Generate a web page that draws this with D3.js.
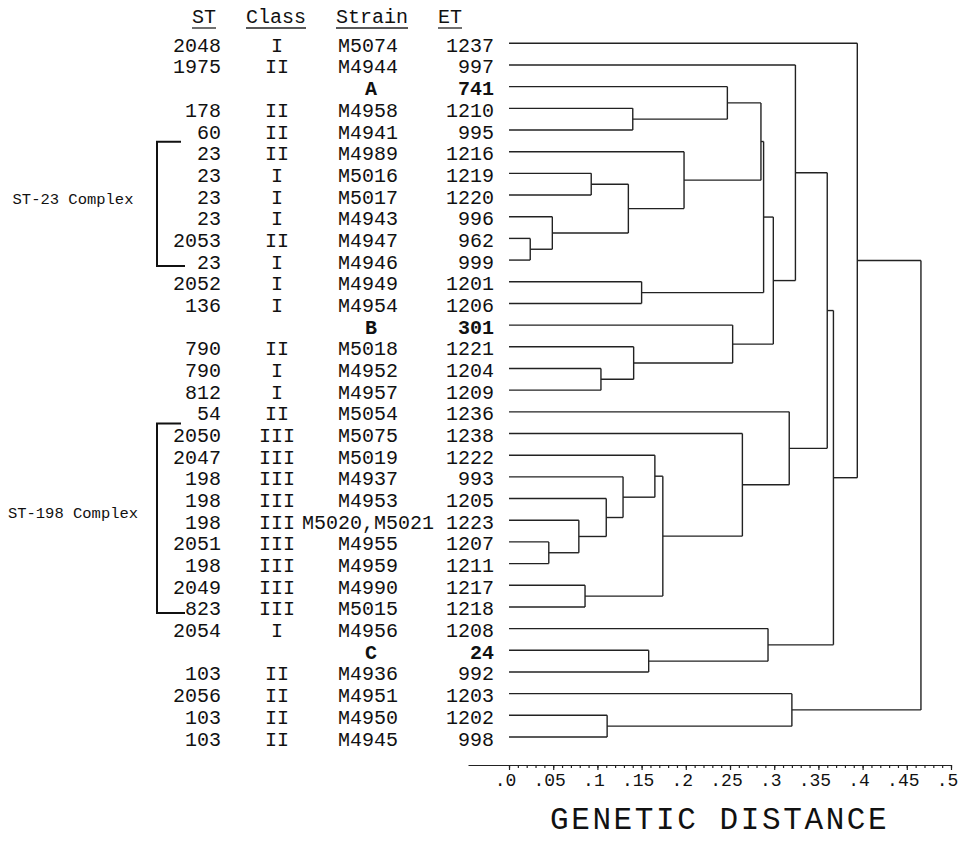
<!DOCTYPE html>
<html>
<head>
<meta charset="utf-8">
<script src="https://cdn.jsdelivr.net/npm/d3@7"></script>
<style>
  body { margin: 0; background: #fff; }
  svg { display: block; }
  text { font-family: "Liberation Mono", "Courier New", monospace; fill: #111; }
  .link { fill: none; stroke: #222; stroke-width: 1.4; }
  .axis path, .axis line { stroke: #222; stroke-width: 1.2; }
  .axis text { font-family: "Liberation Mono", monospace; font-size: 18px; fill: #111; }
</style>
</head>
<body>
<div id="chart"></div>
<script>
// table columns, one entry per leaf (top to bottom)
var st = ["2048","1975","","178","60","23","23","23","23","2053","23","2052","136","","790","790","812","54",
  "2050","2047","198","198","198","2051","198","2049","823","2054","","103","2056","103","103"];
var cls = ["I","II","","II","II","II","I","I","I","II","I","I","I","","II","I","I","II",
  "III","III","III","III","III","III","III","III","III","I","","II","II","II","II"];
var strain = ["M5074","M4944","A","M4958","M4941","M4989","M5016","M5017","M4943","M4947","M4946","M4949","M4954","B",
  "M5018","M4952","M4957","M5054","M5075","M5019","M4937","M4953","M5020,M5021","M4955","M4959","M4990","M5015",
  "M4956","C","M4936","M4951","M4950","M4945"];
var et = ["1237","997","741","1210","995","1216","1219","1220","996","962","999","1201","1206","301","1221","1204","1209",
  "1236","1238","1222","993","1205","1223","1207","1211","1217","1218","1208","24","992","1203","1202","998"];

// linkage: [childA, childB, distance]; leaves are 0..32, merge k becomes node 33+k
var merges = [
  [3, 4, 0.140], [2, 33, 0.247], [9, 10, 0.024], [8, 35, 0.049], [6, 7, 0.093],
  [37, 36, 0.135], [5, 38, 0.198], [34, 39, 0.285], [11, 12, 0.150], [40, 41, 0.288],
  [15, 16, 0.104], [14, 43, 0.141], [13, 44, 0.253], [42, 45, 0.299], [1, 46, 0.324],
  [23, 24, 0.045], [22, 48, 0.079], [21, 49, 0.110], [20, 50, 0.129], [19, 51, 0.165],
  [25, 26, 0.086], [52, 53, 0.174], [18, 54, 0.264], [17, 55, 0.317], [47, 56, 0.360],
  [28, 29, 0.158], [27, 58, 0.293], [57, 59, 0.367], [0, 60, 0.394], [31, 32, 0.111],
  [30, 62, 0.320], [61, 63, 0.466]
];

// complexes: [label, first row, last row]
var complexes = [["ST-23 Complex", 5, 10], ["ST-198 Complex", 18, 26]];

var tickVals = d3.range(0, 0.5001, 0.05);
var minorVals = d3.range(0, 0.5001, 0.01);

var width = 959, height = 844;
var svg = d3.select("#chart").append("svg").attr("width", width).attr("height", height);

var y = d3.scalePoint().domain(d3.range(st.length)).range([43.3, 737]);
var x = d3.scaleLinear().domain([-0.0464, 0.5]).range([468, 951]);

// nodes
var nodes = st.map(function(d, i) { return {h: 0, y: y(i), parent: null}; });
merges.forEach(function(m) {
  var a = nodes[m[0]], b = nodes[m[1]];
  var n = {h: m[2], y: (a.y + b.y) / 2, parent: null, kids: [a, b]};
  a.parent = n; b.parent = n;
  nodes.push(n);
});

var paths = [];
nodes.forEach(function(n) {
  if (n.parent) paths.push("M" + x(n.h) + "," + n.y + "H" + x(n.parent.h));
  if (n.kids) paths.push("M" + x(n.h) + "," + n.kids[0].y + "V" + n.kids[1].y);
});
svg.append("g").selectAll("path").data(paths).enter().append("path")
  .attr("class", "link").attr("d", function(d) { return d; });

// table
var fs = 20;
var rows = svg.append("g").selectAll("g").data(st).enter().append("g")
  .attr("transform", function(d, i) { return "translate(0," + (y(i) + 8.5) + ")"; })
  .style("font-size", fs + "px");
rows.append("text").attr("x", 221).attr("text-anchor", "end").text(function(d) { return d; });
rows.append("text").attr("x", 277).attr("text-anchor", "middle").text(function(d, i) { return cls[i]; });
rows.append("text").attr("x", function(d, i) { return st[i] === "" ? 371 : 368; })
  .attr("text-anchor", "middle")
  .style("font-weight", function(d, i) { return st[i] === "" ? "bold" : null; })
  .text(function(d, i) { return strain[i]; });
rows.append("text").attr("x", 494).attr("text-anchor", "end")
  .style("font-weight", function(d, i) { return st[i] === "" ? "bold" : null; })
  .text(function(d, i) { return et[i]; });

// header
var headers = [["ST", 216, "end"], ["Class", 276, "middle"], ["Strain", 336, "start"], ["ET", 438, "start"]];
var hg = svg.append("g").style("font-size", fs + "px");
headers.forEach(function(h) {
  var t = hg.append("text").attr("x", h[1]).attr("y", 23).attr("text-anchor", h[2]).text(h[0]);
  var bb = t.node().getBBox();
  hg.append("line").attr("x1", bb.x).attr("x2", bb.x + bb.width).attr("y1", 28).attr("y2", 28)
    .attr("stroke", "#222").attr("stroke-width", 1.3);
});

// complex brackets
var cg = svg.append("g");
complexes.forEach(function(c) {
  var y0 = y(c[1]) - 10, y1 = y(c[2]) + 6;
  cg.append("path").attr("d", "M181," + y0 + "H157V" + y1 + "H185")
    .attr("fill", "none").attr("stroke", "#111").attr("stroke-width", 2);
  cg.append("text").attr("x", 73).attr("y", (y0 + y1) / 2).attr("text-anchor", "middle")
    .style("font-size", "15.5px").text(c[0]);
});

// axis
var fmt = function(d) { return d === 0 ? ".0" : d3.format(".2~f")(d).replace(/^0/, ""); };
svg.append("g").attr("class", "axis").attr("transform", "translate(0,765)")
  .call(d3.axisBottom(x).tickValues(minorVals).tickSize(3).tickSizeOuter(0).tickFormat(""));
var ax = svg.append("g").attr("class", "axis").attr("transform", "translate(0,765)")
  .call(d3.axisBottom(x).tickValues(tickVals).tickSize(5).tickSizeOuter(0).tickFormat(fmt));
ax.select(".domain").remove();
ax.selectAll("text").attr("y", 8).attr("dx", -4);

svg.append("text").attr("x", 550).attr("y", 829)
  .style("font-size", "31px").style("letter-spacing", "2.6px").text("GENETIC DISTANCE");
</script>
</body>
</html>
